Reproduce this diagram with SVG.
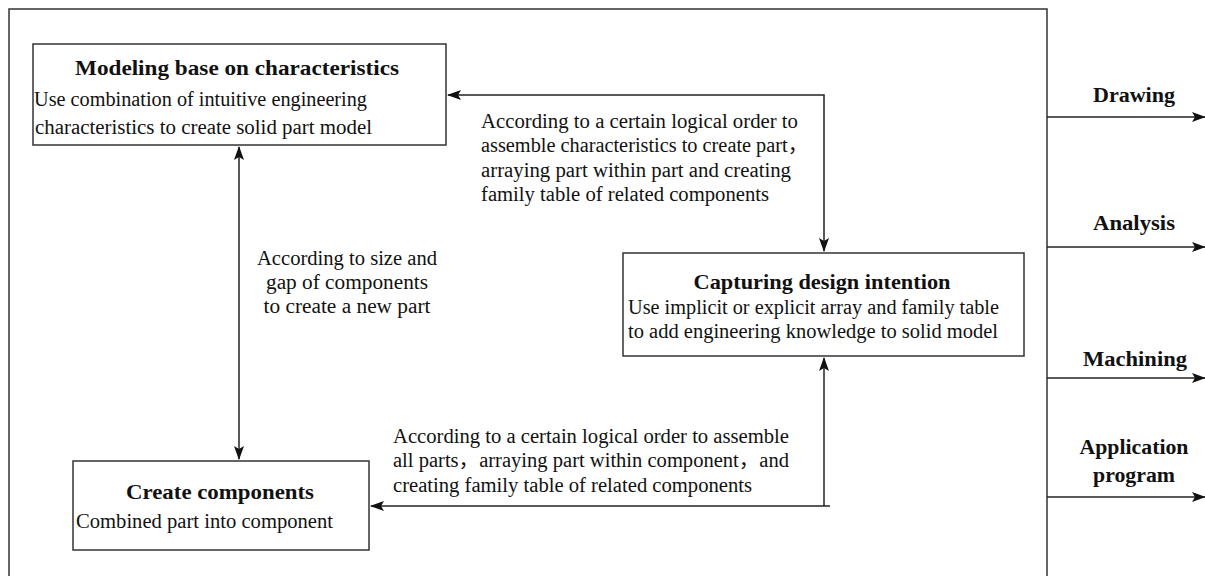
<svg xmlns="http://www.w3.org/2000/svg" width="1205" height="576" viewBox="0 0 1205 576">
<style>
.box{fill:#fff;stroke:#333;stroke-width:1.5}
.ln{fill:none;stroke:#222;stroke-width:1.5}
.t{font-family:"Liberation Serif","Noto Sans CJK SC",serif;font-size:20px;fill:#111}
.b{font-family:"Liberation Serif",serif;font-size:21px;font-weight:bold;fill:#111}
.rb{font-family:"Liberation Serif",serif;font-size:20px;font-weight:bold;fill:#111}
</style>
<defs>
<marker id="ah" markerWidth="14" markerHeight="10" refX="13" refY="5" orient="auto" markerUnits="userSpaceOnUse">
<path d="M0,0 L14,5 L0,10 L3,5 Z" fill="#111"/>
</marker>
<marker id="as" markerWidth="14" markerHeight="10" refX="1" refY="5" orient="auto" markerUnits="userSpaceOnUse">
<path d="M14,0 L0,5 L14,10 L11,5 Z" fill="#111"/>
</marker>
</defs>
<rect width="1205" height="576" fill="#fff"/>
<rect x="9" y="9" width="1038" height="600" class="box"/>
<g id="connectors">
<path class="ln" d="M239,147 L239,459" marker-start="url(#as)" marker-end="url(#ah)"/>
<path class="ln" d="M448,95 L824,95 L824,251" marker-start="url(#as)" marker-end="url(#ah)"/>
<path class="ln" d="M830,506 L371,506" marker-end="url(#ah)"/>
<path class="ln" d="M824,506 L824,358" marker-end="url(#ah)"/>
<path class="ln" d="M1047,117 L1205,117" marker-end="url(#ah)"/>
<path class="ln" d="M1047,247 L1205,247" marker-end="url(#ah)"/>
<path class="ln" d="M1047,378 L1205,378" marker-end="url(#ah)"/>
<path class="ln" d="M1047,497 L1205,497" marker-end="url(#ah)"/>
<text class="t" x="481" y="128" textLength="317" lengthAdjust="spacingAndGlyphs">According to a certain logical order to</text>
<text class="t" x="481" y="152" textLength="327" lengthAdjust="spacingAndGlyphs">assemble characteristics to create part，</text>
<text class="t" x="481" y="177" textLength="310" lengthAdjust="spacingAndGlyphs">arraying part within part and creating</text>
<text class="t" x="481" y="201" textLength="288" lengthAdjust="spacingAndGlyphs">family table of related components</text>
<text class="t" x="347" y="265" text-anchor="middle" textLength="180" lengthAdjust="spacingAndGlyphs">According to size and</text>
<text class="t" x="347" y="289" text-anchor="middle" textLength="162" lengthAdjust="spacingAndGlyphs">gap of components</text>
<text class="t" x="347" y="313" text-anchor="middle" textLength="167" lengthAdjust="spacingAndGlyphs">to create a new part</text>
<text class="t" x="393" y="443" textLength="396" lengthAdjust="spacingAndGlyphs">According to a certain logical order to assemble</text>
<text class="t" x="393" y="467" textLength="396" lengthAdjust="spacingAndGlyphs">all parts，arraying part within component，and</text>
<text class="t" x="393" y="492" textLength="359" lengthAdjust="spacingAndGlyphs">creating family table of related components</text>
<text class="rb" x="1134" y="102" text-anchor="middle" textLength="82" lengthAdjust="spacingAndGlyphs">Drawing</text>
<text class="rb" x="1134" y="230" text-anchor="middle" textLength="82" lengthAdjust="spacingAndGlyphs">Analysis</text>
<text class="rb" x="1135" y="366" text-anchor="middle" textLength="104" lengthAdjust="spacingAndGlyphs">Machining</text>
<text class="rb" x="1134" y="454" text-anchor="middle" textLength="109" lengthAdjust="spacingAndGlyphs">Application</text>
<text class="rb" x="1134" y="482" text-anchor="middle" textLength="82" lengthAdjust="spacingAndGlyphs">program</text>
</g>
<g id="node-modeling">
<rect x="33" y="44" width="413" height="101" class="box"/>
<text class="b" x="237" y="75" text-anchor="middle" textLength="324" lengthAdjust="spacingAndGlyphs">Modeling base on characteristics</text>
<text class="t" x="34" y="106" textLength="333" lengthAdjust="spacingAndGlyphs">Use combination of intuitive engineering</text>
<text class="t" x="35" y="134" textLength="337" lengthAdjust="spacingAndGlyphs">characteristics to create solid part model</text>
</g>
<g id="node-capturing">
<rect x="623" y="253" width="401" height="103" class="box"/>
<text class="b" x="822" y="289" text-anchor="middle" textLength="257" lengthAdjust="spacingAndGlyphs">Capturing design intention</text>
<text class="t" x="628" y="314" textLength="371" lengthAdjust="spacingAndGlyphs">Use implicit or explicit array and family table</text>
<text class="t" x="628" y="338" textLength="370" lengthAdjust="spacingAndGlyphs">to add engineering knowledge to solid model</text>
</g>
<g id="node-components">
<rect x="73" y="461" width="296" height="89" class="box"/>
<text class="b" x="220" y="499" text-anchor="middle" textLength="188" lengthAdjust="spacingAndGlyphs">Create components</text>
<text class="t" x="76" y="528" textLength="257" lengthAdjust="spacingAndGlyphs">Combined part into component</text>
</g>
</svg>
